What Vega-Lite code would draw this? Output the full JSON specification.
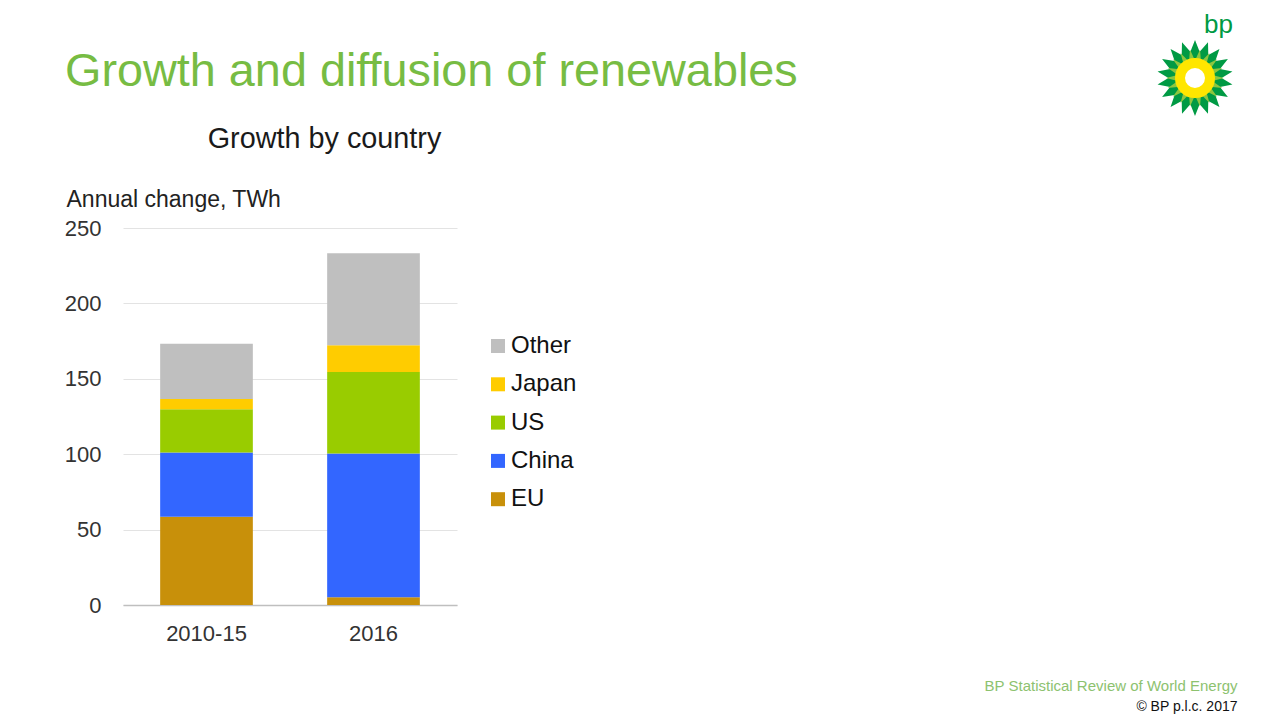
{
  "$schema": "https://vega.github.io/schema/vega-lite/v6.json",
  "width": 334,
  "height": 377,
  "autosize": {"type": "none"},
  "padding": {"left": 123, "top": 228, "right": 823, "bottom": 115},
  "background": "white",
  "config": {"font": "Liberation Sans", "view": {"stroke": null}},
  "title": {
    "text": "Growth and diffusion of renewables",
    "anchor": "start",
    "frame": "group",
    "dx": -58,
    "offset": -84,
    "fontSize": 46.8,
    "fontWeight": "normal",
    "color": "#77BC43",
    "font": "Liberation Sans"
  },
  "data": {
    "values": [
      {"period": "2010-15", "region": "EU", "twh": 58.5, "k": 1},
      {"period": "2010-15", "region": "China", "twh": 42.6, "k": 2},
      {"period": "2010-15", "region": "US", "twh": 28.7, "k": 3},
      {"period": "2010-15", "region": "Japan", "twh": 6.8, "k": 4},
      {"period": "2010-15", "region": "Other", "twh": 36.7, "k": 5},
      {"period": "2016", "region": "EU", "twh": 5.1, "k": 1},
      {"period": "2016", "region": "China", "twh": 95.4, "k": 2},
      {"period": "2016", "region": "US", "twh": 54.0, "k": 3},
      {"period": "2016", "region": "Japan", "twh": 17.7, "k": 4},
      {"period": "2016", "region": "Other", "twh": 61.1, "k": 5}
    ]
  },
  "layer": [
    {
      "mark": {"type": "bar"},
      "encoding": {
        "x": {
          "field": "period", "type": "nominal", "sort": ["2010-15", "2016"],
          "scale": {"paddingInner": 0.445, "paddingOuter": 0.2225},
          "axis": {
            "title": "BP Statistical Review of World Energy",
            "titleX": 1114, "titleY": 85, "titleAlign": "right", "titleBaseline": "alphabetic",
            "titleFontSize": 15, "titleFontWeight": "normal", "titleColor": "#8DC26F",
            "labelAngle": 0, "labelFontSize": 22, "labelColor": "#333333", "labelPadding": 18,
            "ticks": false, "domainColor": "#BFBFBF", "domainWidth": 1.5, "grid": false
          }
        },
        "y": {
          "field": "twh", "type": "quantitative", "stack": "zero",
          "scale": {"domain": [0, 250]},
          "axis": {
            "values": [0, 50, 100, 150, 200, 250],
            "title": "Annual change, TWh",
            "titleAngle": 0, "titleX": -57, "titleY": -22, "titleAlign": "left", "titleBaseline": "alphabetic",
            "titleFontSize": 23, "titleFontWeight": "normal", "titleColor": "#222222",
            "labelFontSize": 22, "labelColor": "#333333", "labelPadding": 22,
            "ticks": false, "domain": false, "gridColor": "#E3E3E3", "gridWidth": 1
          }
        },
        "color": {
          "field": "region", "type": "nominal",
          "scale": {"domain": ["Other", "Japan", "US", "China", "EU"], "range": ["#BFBFBF", "#FFCC00", "#99CC00", "#3366FF", "#C8900A"]},
          "legend": {
            "title": null, "orient": "none", "legendX": 363, "legendY": 106,
            "symbolType": "square", "symbolSize": 196, "symbolStrokeWidth": 0,
            "labelFontSize": 24, "labelColor": "#111111", "labelOffset": 1, "rowPadding": 14.3, "padding": 0
          }
        },
        "order": {"field": "k", "type": "quantitative"}
      }
    },
    {
      "mark": {"type": "bar", "opacity": 0},
      "encoding": {
        "x": {
          "field": "period", "type": "nominal", "sort": ["2010-15", "2016"],
          "scale": {"paddingInner": 0.445, "paddingOuter": 0.2225},
          "axis": {
            "orient": "top", "labels": false, "ticks": false, "domain": false, "grid": false,
            "title": "Growth by country", "titleX": 201, "titleY": -81, "titleAlign": "center", "titleBaseline": "alphabetic",
            "titleFontSize": 28.8, "titleFontWeight": "normal", "titleColor": "#1A1A1A"
          }
        },
        "y": {
          "field": "twh", "type": "quantitative",
          "scale": {"domain": [0, 250]},
          "axis": {
            "orient": "right", "labels": false, "ticks": false, "domain": false, "grid": false,
            "title": "© BP p.l.c. 2017", "titleAngle": 0, "titleX": 780, "titleY": 482, "titleAlign": "right", "titleBaseline": "alphabetic",
            "titleFontSize": 14, "titleFontWeight": "normal", "titleColor": "#111111"
          }
        }
      }
    },
    {
      "mark": {"type": "point", "opacity": 0, "filled": true, "color": "#009A44"},
      "encoding": {
        "shape": {
          "datum": "logo",
          "scale": {"range": ["M0,-1L0.122,-0.689L0.342,-0.94L0.35,-0.606L0.643,-0.766L0.536,-0.45L0.866,-0.5L0.658,-0.239L0.985,-0.174L0.7,0L0.985,0.174L0.658,0.239L0.866,0.5L0.536,0.45L0.643,0.766L0.35,0.606L0.342,0.94L0.122,0.689L0,1L-0.122,0.689L-0.342,0.94L-0.35,0.606L-0.643,0.766L-0.536,0.45L-0.866,0.5L-0.658,0.239L-0.985,0.174L-0.7,0L-0.985,-0.174L-0.658,-0.239L-0.866,-0.5L-0.536,-0.45L-0.643,-0.766L-0.35,-0.606L-0.342,-0.94L-0.122,-0.689Z"]},
          "legend": {
            "title": "bp", "orient": "none", "legendX": 1034, "legendY": -216,
            "titleFontSize": 26, "titleColor": "#009A44", "titleFontWeight": "normal", "titleAnchor": "end", "titlePadding": 2,
            "symbolSize": 5776, "symbolFillColor": "#009A44", "symbolStrokeWidth": 0, "symbolOpacity": 1,
            "labelExpr": "''", "labelOffset": 0, "padding": 0
          }
        }
      }
    },
    {
      "mark": {"type": "point", "opacity": 0, "filled": true, "color": "#8CC63F"},
      "encoding": {
        "stroke": {
          "datum": "mid",
          "scale": {"range": ["#8CC63F"]},
          "legend": {
            "title": null, "orient": "none", "legendX": 1043, "legendY": -179,
            "symbolType": "M0,-0.6L0.174,-0.985L0.205,-0.564L0.5,-0.866L0.386,-0.46L0.766,-0.643L0.52,-0.3L0.94,-0.342L0.591,-0.104L1,0L0.591,0.104L0.94,0.342L0.52,0.3L0.766,0.643L0.386,0.46L0.5,0.866L0.205,0.564L0.174,0.985L0,0.6L-0.174,0.985L-0.205,0.564L-0.5,0.866L-0.386,0.46L-0.766,0.643L-0.52,0.3L-0.94,0.342L-0.591,0.104L-1,0L-0.591,-0.104L-0.94,-0.342L-0.52,-0.3L-0.766,-0.643L-0.386,-0.46L-0.5,-0.866L-0.205,-0.564L-0.174,-0.985Z",
            "symbolSize": 3364, "symbolFillColor": "#8CC63F", "symbolStrokeWidth": 0, "symbolOpacity": 1,
            "labelExpr": "''", "labelOffset": 0, "padding": 0
          }
        }
      }
    },
    {
      "mark": {"type": "point", "opacity": 0, "filled": true, "shape": "circle"},
      "encoding": {
        "fill": {
          "datum": "c",
          "scale": {"range": ["#FFFFFF"]},
          "legend": {
            "title": null, "orient": "none", "legendX": 1052, "legendY": -170,
            "symbolType": "circle", "symbolSize": 900, "symbolStrokeColor": "#FFE600", "symbolStrokeWidth": 10, "symbolOpacity": 1,
            "labelExpr": "''", "labelOffset": 0, "padding": 0
          }
        }
      }
    }
  ],
  "resolve": {"axis": {"x": "independent", "y": "independent"}}
}
